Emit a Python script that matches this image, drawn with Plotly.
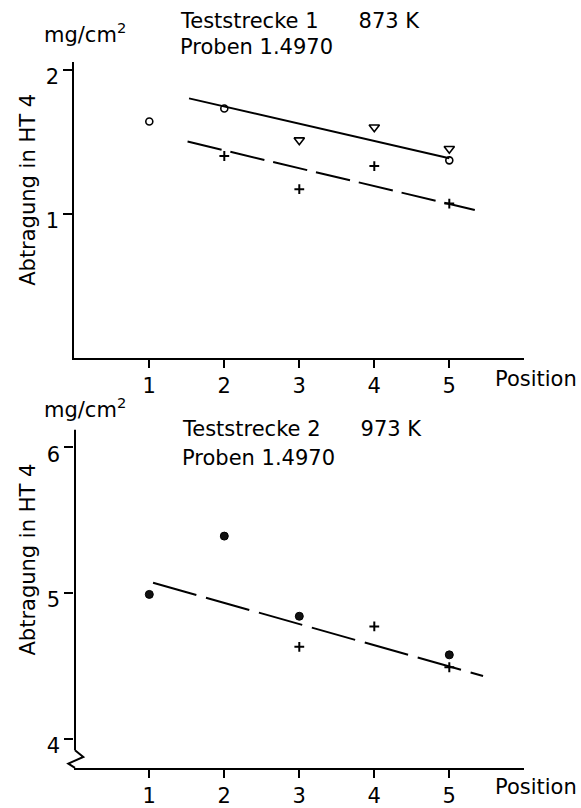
import plotly.graph_objects as go

# ---------------- data ----------------
positions = [1, 2, 3, 4, 5]

# Teststrecke 1, 873 K
top_circle_x = [1, 2, 5]
top_circle_y = [1.64, 1.73, 1.37]
top_tri_x = [3, 4, 5]
top_tri_y = [1.51, 1.60, 1.45]
top_plus_x = [2, 3, 4, 5]
top_plus_y = [1.40, 1.17, 1.33, 1.07]
top_solid_x = [1.53, 5.0]
top_solid_y = [1.80, 1.385]
top_dash_x = [1.51, 5.34]
top_dash_y = [1.50, 1.025]
top_yticks = [1, 2]

# Teststrecke 2, 973 K
bot_circle_x = [1, 2, 3, 5]
bot_circle_y = [4.99, 5.39, 4.84, 4.575]
bot_plus_x = [3, 4, 5]
bot_plus_y = [4.63, 4.77, 4.49]
bot_dash_x = [1.05, 5.45]
bot_dash_y = [5.07, 4.43]
bot_yticks = [4, 5, 6]

# ---------------- layout helpers ----------------
W, H = 581, 808
FONT = "DejaVu Sans"
FS = 21


def fx(p):
    return p / W


def fy(p):
    return 1 - p / H


X0, X1 = 74.3, 524.3          # pixel span of x range [0, 6]
TOP_Y0, TOP_Y1 = 360, 62       # pixel span of top y range
BOT_Y0, BOT_Y1 = 772.6, 432.4  # pixel span of bottom y range

fig = go.Figure()

mk_open = dict(color="black", line=dict(color="black", width=1.6))

# top panel
fig.add_trace(go.Scatter(x=top_solid_x, y=top_solid_y, mode="lines",
                         line=dict(color="black", width=2), xaxis="x", yaxis="y"))
fig.add_trace(go.Scatter(x=top_dash_x, y=top_dash_y, mode="lines",
                         line=dict(color="black", width=2, dash="35px,9px"),
                         xaxis="x", yaxis="y"))
fig.add_trace(go.Scatter(x=top_circle_x, y=top_circle_y, mode="markers",
                         marker=dict(symbol="circle-open", size=7, **mk_open),
                         xaxis="x", yaxis="y"))
fig.add_trace(go.Scatter(x=top_tri_x, y=top_tri_y, mode="markers",
                         marker=dict(symbol="triangle-down-open", size=9, **mk_open),
                         xaxis="x", yaxis="y"))
fig.add_trace(go.Scatter(x=top_plus_x, y=top_plus_y, mode="markers",
                         marker=dict(symbol="cross-thin", size=7,
                                     color="black", line=dict(color="black", width=2)),
                         xaxis="x", yaxis="y"))

# bottom panel
fig.add_trace(go.Scatter(x=bot_dash_x, y=bot_dash_y, mode="lines",
                         line=dict(color="black", width=2, dash="45px,10px"),
                         xaxis="x2", yaxis="y2"))
fig.add_trace(go.Scatter(x=bot_circle_x, y=bot_circle_y, mode="markers",
                         marker=dict(symbol="circle", size=8, color="#111",
                                     line=dict(color="black", width=1)),
                         xaxis="x2", yaxis="y2"))
fig.add_trace(go.Scatter(x=bot_plus_x, y=bot_plus_y, mode="markers",
                         marker=dict(symbol="cross-thin", size=7,
                                     color="black", line=dict(color="black", width=2)),
                         xaxis="x2", yaxis="y2"))

tickfont = dict(family=FONT, size=FS, color="black")
xcommon = dict(range=[0, 6], tickvals=positions, ticktext=[str(p) for p in positions],
               ticks="outside", ticklen=8, tickwidth=2, tickcolor="black",
               showline=True, linewidth=2, linecolor="black",
               showgrid=False, zeroline=False, tickfont=tickfont,
               domain=[fx(X0), fx(X1)], fixedrange=True)
ycommon = dict(ticks="outside", ticklen=9, tickwidth=2, tickcolor="black",
               showgrid=False, zeroline=False, tickfont=tickfont,
               ticklabelshift=7, fixedrange=True)

fig.update_layout(
    width=W, height=H,
    margin=dict(l=0, r=0, t=0, b=0),
    paper_bgcolor="white", plot_bgcolor="white",
    showlegend=False,
    font=dict(family=FONT, size=FS, color="black"),
    xaxis=dict(anchor="y", **xcommon),
    yaxis=dict(anchor="x", range=[0, 2.055], tickvals=top_yticks,
               ticktext=[str(v) for v in top_yticks],
               showline=True, linewidth=2, linecolor="black",
               domain=[fy(TOP_Y0), fy(TOP_Y1)], **ycommon),
    xaxis2=dict(anchor="y2", **xcommon),
    yaxis2=dict(anchor="x2", range=[3.80, 6.12], tickvals=bot_yticks,
                ticktext=[str(v) for v in bot_yticks],
                showline=False,
                domain=[fy(BOT_Y0), fy(BOT_Y1)], **ycommon),
)

# bottom y axis line with break symbol
fig.add_shape(type="line", xref="paper", yref="paper",
              x0=fx(75), x1=fx(75), y0=fy(BOT_Y1), y1=fy(755),
              line=dict(color="black", width=2))
pts = [(75, 755), (83.3, 761.7), (68.3, 768.3), (75, 772.6)]
path = "M " + " L ".join(f"{fx(a):.5f},{fy(b):.5f}" for a, b in pts)
fig.add_shape(type="path", xref="paper", yref="paper", path=path,
              line=dict(color="black", width=2))

NB = "\u00a0"


def ann(text, x, y, xanchor="left", yanchor="middle", angle=0, size=FS):
    fig.add_annotation(text=text, x=fx(x), y=fy(y), xref="paper", yref="paper",
                       xanchor=xanchor, yanchor=yanchor, showarrow=False,
                       textangle=angle, font=dict(family=FONT, size=size, color="black"))


# top panel texts
ann("mg/cm<sup>2</sup>", 42, 33)
ann("Teststrecke 1" + NB * 6 + "873 K", 178, 21)
ann("Proben 1.4970", 178, 47)
ann("Abtragung in HT 4", 28, 191, xanchor="center", angle=-90)
ann("Position", 493, 381)

# bottom panel texts
ann("mg/cm<sup>2</sup>", 42, 411)
ann("Teststrecke 2" + NB * 6 + "973 K", 180, 432)
ann("Proben 1.4970", 180, 461)
ann("Abtragung in HT 4", 28, 563, xanchor="center", angle=-90)
ann("Position", 493, 792)

fig.write_html("out.html")
